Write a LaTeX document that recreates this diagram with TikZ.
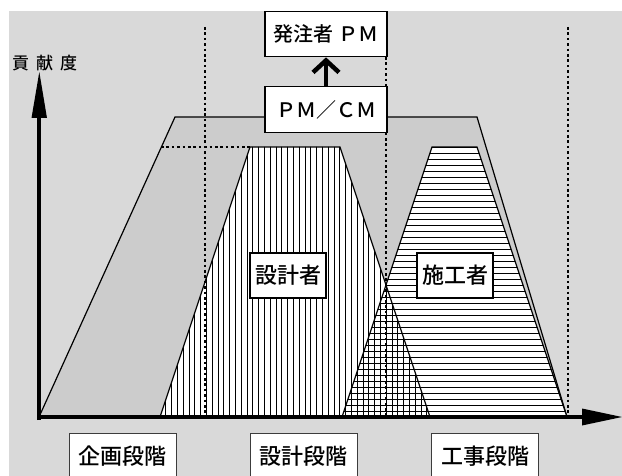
\documentclass[tikz,border=0pt]{standalone}
\usepackage{fontspec}
\setmainfont{Noto Sans CJK JP Medium}
\usetikzlibrary{arrows.meta}
\definecolor{bgGray}{RGB}{217,217,217}
\definecolor{trapGray}{RGB}{204,204,204}
\definecolor{stageBorder}{RGB}{60,60,60}
\begin{document}
\begin{tikzpicture}[x=1pt,y=-1pt,
  box/.style={draw=black,line width=1.2pt,fill=white,inner sep=0pt},
  topbox/.style={box,minimum width=122pt,minimum height=45.5pt,font=\fontsize{20}{23}\selectfont},
  rolebox/.style={box,minimum width=76pt,minimum height=45pt,font=\fontsize{22}{25}\selectfont},
  stagebox/.style={draw=stageBorder,line width=1pt,fill=white,inner sep=0pt,minimum width=107pt,minimum height=47pt,font=\fontsize{22}{25}\selectfont},
  dotline/.style={line width=2.2pt,dash pattern=on 2.6pt off 2.8pt},
  hatchline/.style={line width=0.9pt},
  edgeline/.style={line width=1.2pt},
  axisline/.style={line width=4pt}
]
\useasboundingbox (0,0) rectangle (622,476);
% background
\fill[bgGray] (9,11) rectangle (622,476);
% PM/CM trapezoid
\filldraw[fill=trapGray,edgeline] (39,417) -- (175,117) -- (477,117) -- (567,417);
% designer and contractor trapezoids
\fill[white] (160,417) -- (250,147) -- (340,147) -- (430,417) -- cycle;
\fill[white] (342,417) -- (432,147) -- (477,147) -- (567,417) -- cycle;
\begin{scope}
  \clip (160,417) -- (250,147) -- (340,147) -- (430,417) -- cycle;
  \foreach \i in {0,...,47} \draw[hatchline] ({160+5.8*\i},140) -- ++(0,285);
\end{scope}
\begin{scope}
  \clip (342,417) -- (432,147) -- (477,147) -- (567,417) -- cycle;
  \foreach \i in {0,...,45} \draw[hatchline] (330,{147+6*\i}) -- ++(250,0);
\end{scope}
\draw[edgeline] (160,417) -- (250,147) -- (340,147) -- (430,417);
\draw[edgeline] (342,417) -- (432,147) -- (477,147) -- (567,417);
% dotted guide lines
\draw[dotline] (161,147) -- (250,147);
\draw[dotline] (205,27) -- (205,417);
\draw[dotline] (386,57) -- (386,417);
\draw[dotline] (568,27) -- (568,417);
% axes
\draw[axisline] (39,420) -- (39,115);
\fill (31.5,118) -- (47,118) -- (39.3,72) -- cycle;
\draw[axisline] (37,417) -- (585,417);
\fill (582,408.5) -- (582,425.5) -- (622,417) -- cycle;
\node[anchor=west,inner sep=0pt,font=\fontsize{17}{19}\selectfont] (ylabel) at (12,63) {貢\hspace{7pt}献\hspace{7pt}度};
% boxes
\node[topbox] (owner) at (326,34) {発注者 ＰＭ};
\node[topbox] (pmcm) at (326,109.5) {ＰＭ／ＣＭ};
\draw[line width=4.5pt,-{Straight Barb[length=12pt,width=26pt]}] (pmcm.north) -- (owner.south);
\node[rolebox] (designer) at (288,275.5) {設計者};
\node[rolebox] (builder) at (455,275.5) {施工者};
\node[stagebox] (plan) at (122.5,456.5) {企画段階};
\node[stagebox] (design) at (303.5,456.5) {設計段階};
\node[stagebox] (build) at (485,456.5) {工事段階};
\end{tikzpicture}
\end{document}
